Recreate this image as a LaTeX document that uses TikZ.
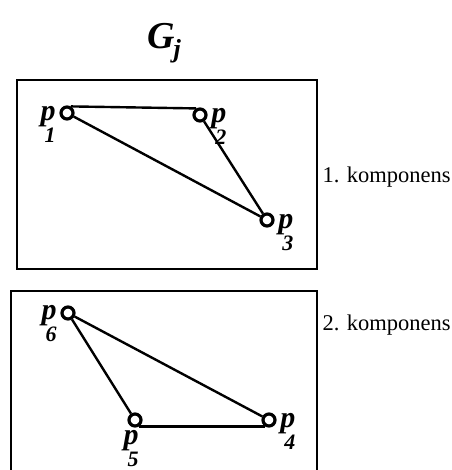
\documentclass[tikz,border=0pt]{standalone}
\usepackage{fontspec}
\setmainfont{Liberation Serif}
\usetikzlibrary{positioning}

\newcommand{\plab}[1]{\fontsize{30}{30}\selectfont\bfseries\itshape p\kern-11pt\raisebox{-22pt}{\fontsize{22}{22}\selectfont #1}}

\tikzset{
  vertex/.style={circle,draw,line width=3.2pt,minimum size=12pt,inner sep=0pt},
  edge/.style={line width=2.4pt},
  frame/.style={line width=2pt},
  lbl/.style={inner sep=0.5pt}
}

\begin{document}
\begin{tikzpicture}[x=1pt,y=-1pt,label distance=3pt]
  \useasboundingbox (0,0) rectangle (451,470);
  \node (title) at (164,43) {\fontsize{38}{38}\selectfont\bfseries\itshape G\kern-1pt\raisebox{-9pt}{\fontsize{26}{26}\selectfont j}};
  % 1. komponens
  \draw[frame] (17,80) rectangle (317,269);
  \node[vertex,label={[lbl,yshift=-11pt]left:\plab{1}}] (p1) at (67,113) {};
  \node[vertex,label={[lbl,yshift=-11pt]right:\plab{2}}] (p2) at (200,115) {};
  \node[vertex,label={[lbl,yshift=-13pt]right:\plab{3}}] (p3) at (267,220) {};
  \draw[edge] (p1.60) -- (p2.120);
  \draw[edge] (p2) -- (p3);
  \draw[edge] (p1) -- (p3);
  \node[anchor=west,font=\fontsize{22.5}{22.5}\selectfont] (k1) at (319,177) {1. komponens};
  % 2. komponens
  \draw[frame] (11,291) rectangle (317,478);
  \node[vertex,label={[lbl,yshift=-11pt]left:\plab{6}}] (p6) at (68,313) {};
  \node[vertex,label={[lbl,xshift=-4pt,yshift=1pt]below:\plab{5}}] (p5) at (135,420) {};
  \node[vertex,label={[lbl,yshift=-11pt]right:\plab{4}}] (p4) at (269,420) {};
  \draw[edge] (p6) -- (p5);
  \draw[edge] (p5.-60) -- (p4.-120);
  \draw[edge] (p6) -- (p4);
  \node[anchor=west,font=\fontsize{22.5}{22.5}\selectfont] (k2) at (319,325) {2. komponens};
\end{tikzpicture}
\end{document}
